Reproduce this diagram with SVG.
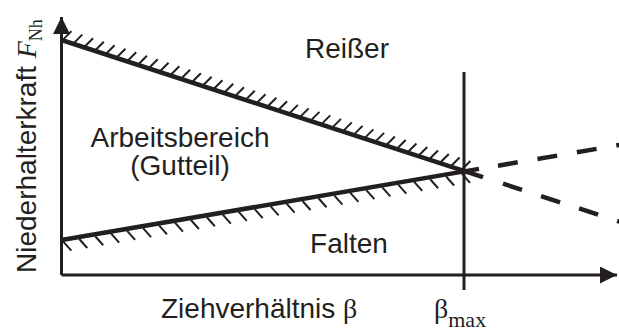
<svg xmlns="http://www.w3.org/2000/svg" width="619" height="334" viewBox="0 0 619 334">
<style>
.ax{stroke:#231f20;stroke-width:3;fill:none}
.bd{stroke:#231f20;stroke-width:4.5;fill:none}
.ds{stroke:#231f20;stroke-width:4.5;fill:none;stroke-dasharray:20 20}
.ht{stroke:#231f20;stroke-width:2;fill:none}
.t{font-family:"Liberation Sans",Arial,sans-serif;font-size:28px;fill:#231f20}
.s{font-family:"Liberation Serif","Times New Roman",serif;fill:#231f20}
</style>
<defs>
<marker id="ah" viewBox="0 0 17 17" refX="17" refY="8.5" markerWidth="17" markerHeight="17" markerUnits="userSpaceOnUse" orient="auto">
<path d="M0,0 L17,8.5 L0,17 Z" fill="#231f20"/>
</marker>
</defs>
<g id="axes">
<path class="ax" d="M61.5,275 L61.5,17" marker-end="url(#ah)"/>
<path class="ax" d="M61.5,275 L617,275" marker-end="url(#ah)"/>
<path class="ax" d="M464,72 L464,290"/>
</g>
<g id="connectors">
<path id="upper-limit" class="bd" d="M61.5,40 L483,177.2"/>
<path id="lower-limit" class="bd" d="M61.5,240 L479,168.9"/>
<path id="upper-dashed" class="ds" d="M498,165.7 L640,141.5"/>
<path id="lower-dashed" class="ds" d="M503,183.7 L640,228.3"/>
<path id="upper-hatch" class="ht" d="M63.5,39.15l8,-8M74.28,42.66l8,-8M85.06,46.17l8,-8M95.84,49.68l8,-8M106.62,53.19l8,-8M117.4,56.7l8,-8M128.18,60.2l8,-8M138.96,63.71l8,-8M149.74,67.22l8,-8M160.52,70.73l8,-8M171.3,74.24l8,-8M182.08,77.75l8,-8M192.86,81.26l8,-8M203.64,84.77l8,-8M214.42,88.28l8,-8M225.2,91.79l8,-8M235.98,95.29l8,-8M246.76,98.8l8,-8M257.54,102.31l8,-8M268.32,105.82l8,-8M279.1,109.33l8,-8M289.88,112.84l8,-8M300.66,116.35l8,-8M311.44,119.86l8,-8M322.22,123.37l8,-8M333,126.88l8,-8M343.78,130.38l8,-8M354.56,133.89l8,-8M365.34,137.4l8,-8M376.12,140.91l8,-8M386.9,144.42l8,-8M397.68,147.93l8,-8M408.46,151.44l8,-8M419.24,154.95l8,-8M430.02,158.46l8,-8M440.8,161.97l8,-8M451.58,165.47l8,-8M462.36,168.98l8,-8"/>
<path id="lower-hatch" class="ht" d="M63.3,241.69l8,9M79.25,238.98l8,9M95.2,236.26l8,9M111.15,233.55l8,9M127.1,230.83l8,9M143.05,228.12l8,9M159,225.4l8,9M174.95,222.69l8,9M190.9,219.97l8,9M206.85,217.26l8,9M222.8,214.54l8,9M238.75,211.83l8,9M254.7,209.11l8,9M270.65,206.4l8,9M286.6,203.68l8,9M302.55,200.97l8,9M318.5,198.25l8,9M334.45,195.54l8,9M350.4,192.82l8,9M366.35,190.11l8,9M382.3,187.39l8,9M398.25,184.68l8,9M414.2,181.96l8,9M430.15,179.25l8,9M446.1,176.53l8,9M462.05,173.82l8,9"/>
</g>
<g id="region-reisser"><text class="t" x="347" y="58" text-anchor="middle">Reißer</text></g>
<g id="region-arbeitsbereich">
<text class="t" x="180" y="147" text-anchor="middle">Arbeitsbereich</text>
<text class="t" x="180" y="175" text-anchor="middle">(Gutteil)</text>
</g>
<g id="region-falten"><text class="t" x="349" y="253" text-anchor="middle">Falten</text></g>
<g id="label-x"><text class="t" x="161" y="318">Ziehverhältnis <tspan class="s">β</tspan></text></g>
<g id="label-bmax"><text class="s" x="434" y="318" font-size="28">β<tspan font-size="22" dy="9">max</tspan></text></g>
<g id="label-y"><text class="t" transform="translate(36,273) rotate(-90)" x="0" y="0">Niederhalterkraft <tspan class="s" font-style="italic">F</tspan><tspan class="s" font-size="18" dy="6">Nh</tspan></text></g>
</svg>
